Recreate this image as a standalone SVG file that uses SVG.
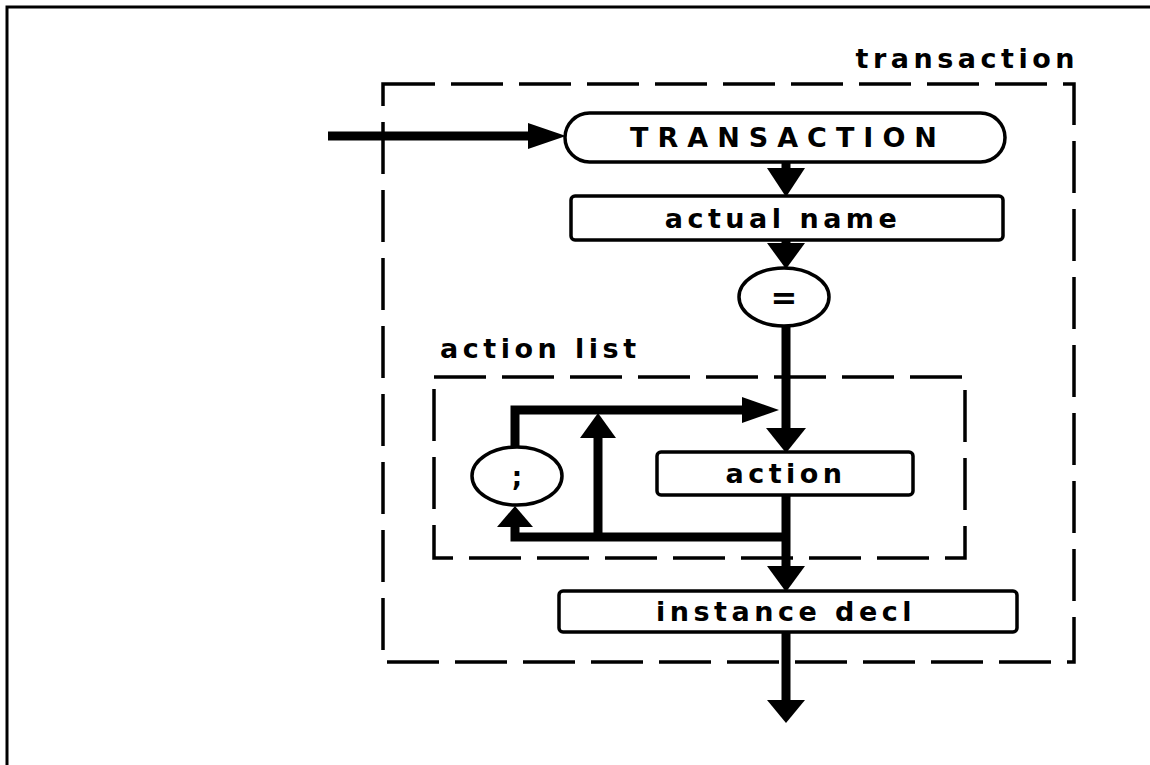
<svg xmlns="http://www.w3.org/2000/svg" width="1150" height="765" viewBox="0 0 1150 765">
<style>
.lbl{font-family:"DejaVu Sans","Liberation Sans",Arial,sans-serif;font-weight:bold;font-size:27px;fill:#000;letter-spacing:4.5px}
.node{fill:#fff;stroke:#000;stroke-width:3.5}
.dash{fill:none;stroke:#000;stroke-width:3.5;stroke-dasharray:52 16}
.wire{fill:none;stroke:#000;stroke-width:9;stroke-linejoin:miter}
.head{fill:#000;stroke:none}
</style>
<rect width="1150" height="765" fill="#fff"/>
<path d="M7,765 V7 H1150" fill="none" stroke="#000" stroke-width="3"/>

<g id="transaction-frame">
<rect class="dash" x="383" y="84" width="691" height="578"/>
<text class="lbl" x="1079" y="68" text-anchor="end">transaction</text>
</g>
<g id="action-list-frame">
<rect class="dash" x="434" y="377" width="531" height="181"/>
<text class="lbl" x="440" y="358">action list</text>
</g>

<g id="connectors">
<line class="wire" x1="328" y1="136" x2="535" y2="136"/>
<polygon class="head" points="528,123 566,136 528,149"/>
<line class="wire" x1="786" y1="160" x2="786" y2="172"/>
<polygon class="head" points="767,168 786,197 805,168"/>
<line class="wire" x1="786" y1="238" x2="786" y2="246"/>
<polygon class="head" points="767,243 786,269 805,243"/>
<line class="wire" x1="786" y1="324" x2="786" y2="432"/>
<polygon class="head" points="766,428 786,453 806,428"/>
<path class="wire" d="M515,449 V410 H750"/>
<polygon class="head" points="742,397 779,410 742,423"/>
<line class="wire" x1="598" y1="537" x2="598" y2="434"/>
<polygon class="head" points="580,438 598,413 616,438"/>
<path class="wire" d="M786,493 V570 M786,537 H515 V522"/>
<polygon class="head" points="497,527 515,506 533,527"/>
<polygon class="head" points="767,566 786,592 805,566"/>
<line class="wire" x1="786" y1="630" x2="786" y2="704"/>
<polygon class="head" points="767,700 786,723 805,700"/>
</g>

<g id="node-transaction">
<rect class="node" x="565" y="113" width="440" height="49" rx="24.5"/>
<text class="lbl" x="788" y="147" text-anchor="middle" style="font-size:27px;letter-spacing:9px">TRANSACTION</text>
</g>
<g id="node-actual-name">
<rect class="node" x="571" y="196" width="432" height="44" rx="4"/>
<text class="lbl" x="783" y="228" text-anchor="middle">actual name</text>
</g>
<g id="node-equals">
<ellipse class="node" cx="784" cy="297" rx="45" ry="29"/>
<text class="lbl" x="784" y="309" text-anchor="middle" style="letter-spacing:0;font-size:32px">=</text>
</g>
<g id="node-semicolon">
<ellipse class="node" cx="517" cy="476" rx="45" ry="29"/>
<text class="lbl" x="517" y="486" text-anchor="middle" style="letter-spacing:0;font-size:26px">;</text>
</g>
<g id="node-action">
<rect class="node" x="657" y="452" width="256" height="43" rx="4"/>
<text class="lbl" x="786" y="483" text-anchor="middle">action</text>
</g>
<g id="node-instance-decl">
<rect class="node" x="559" y="591" width="458" height="41" rx="4"/>
<text class="lbl" x="786" y="621" text-anchor="middle">instance decl</text>
</g>
</svg>
